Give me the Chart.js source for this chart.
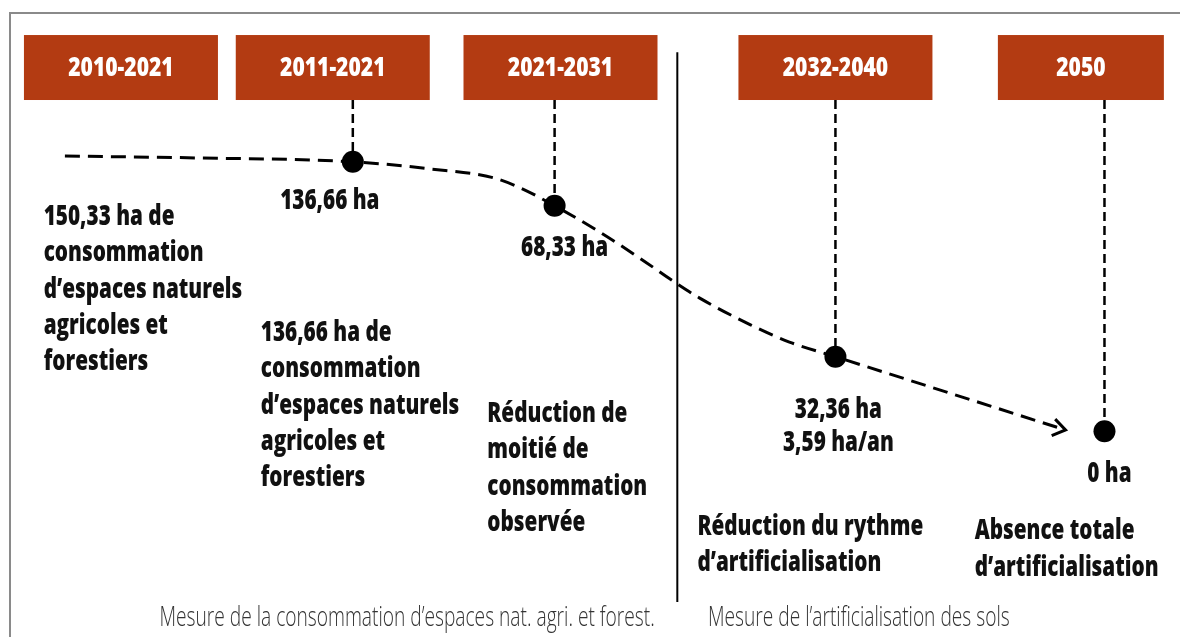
<!DOCTYPE html>
<html>
<head>
<meta charset="utf-8">
<script src="https://cdn.jsdelivr.net/npm/chart.js@4/dist/chart.umd.min.js"></script>
<style>
  html, body { margin: 0; padding: 0; background: #fff; }
  #wrap { position: relative; width: 1180px; height: 637px; }
</style>
</head>
<body>
<div id="wrap"><canvas id="myChart" width="1180" height="637"></canvas></div>
<script>
// Timeline data (x = position on timeline 0-100, y = level 0-100)
const periods = ["2010-2021", "2011-2021", "2021-2031", "2032-2040", "2050"];
const periodX = [10.25, 28.2, 47.5, 70.8, 91.6];

const curveX = [5.5, 16.9, 29.9, 36.4, 41.8, 44.1, 47.0, 50.8, 54.2, 57.5, 59.3, 63.6, 66.9, 70.8, 90.3];
const curveY = [75.5, 75.2, 74.6, 73.5, 72.1, 70.5, 67.7, 63.6, 59.5, 55.3, 53.2, 49.0, 46.3, 44.0, 32.5];

const milestoneX = [29.9, 47.0, 70.8, 93.6];
const milestoneY = [74.6, 67.7, 44.0, 32.3];
const milestoneLabels = [["136,66 ha"], ["68,33 ha"], ["32,36 ha", "3,59 ha/an"], ["0 ha"]];

const descriptions = [
	["150,33 ha de", "consommation", "d’espaces naturels", "agricoles et", "forestiers"],
	["136,66 ha de", "consommation", "d’espaces naturels", "agricoles et", "forestiers"],
	["Réduction de", "moitié de", "consommation", "observée"],
	["Réduction du rythme", "d’artificialisation"],
	["Absence totale", "d’artificialisation"]
];
const descX = [3.7, 22.1, 41.3, 59.1, 82.6];
const descY = [65.9, 47.7, 35.0, 17.3, 16.6];

const footers = ["Mesure de la consommation d’espaces nat. agri. et forest.", "Mesure de l’artificialisation des sols"];

const boxTop = 94.5;
const boxBottom = 84.3;
const separatorX = 57.4;

// stems from box bottom down to each milestone
const stemPoints = [];
milestoneX.forEach((x, i) => {
	stemPoints.push({ x: x, y: boxBottom });
	stemPoints.push({ x: x, y: milestoneY[i] });
	stemPoints.push({ x: x, y: null });
});

const RED = "#b33b12";

function condText(ctx, text, x, y, size, weight, sx, align, color) {
	ctx.save();
	ctx.font = weight + " " + size + "px 'Open Sans'";
	ctx.textBaseline = "middle";
	ctx.textAlign = "left";
	ctx.fillStyle = color;
	const w = ctx.measureText(text).width * sx;
	const x0 = align === "center" ? x - w / 2 : x;
	ctx.translate(x0, y);
	ctx.scale(sx, 1);
	ctx.fillText(text, 0, 0);
	ctx.restore();
}

const decor = {
	id: "decor",
	beforeDatasetsDraw(chart) {
		const ctx = chart.ctx;
		const xs = chart.scales.x;
		const ys = chart.scales.y;

		// frame
		ctx.save();
		ctx.strokeStyle = "#8a8a8a";
		ctx.lineWidth = 2;
		ctx.beginPath();
		ctx.moveTo(10, 640);
		ctx.lineTo(10, 13);
		ctx.lineTo(1180, 13);
		ctx.stroke();
		ctx.restore();

		// period boxes
		periods.forEach((p, i) => {
			const w = i === 4 ? 166 : 194;
			const cx = xs.getPixelForValue(periodX[i]);
			const top = ys.getPixelForValue(boxTop);
			const bottom = ys.getPixelForValue(boxBottom);
			ctx.fillStyle = RED;
			ctx.fillRect(cx - w / 2, top, w, bottom - top);
			condText(ctx, p, cx, (top + bottom) / 2 + 1, 27, "800", 0.78, "center", "#fff");
		});

		// descriptions
		descriptions.forEach((lines, i) => {
			const x = xs.getPixelForValue(descX[i]);
			const y = ys.getPixelForValue(descY[i]);
			lines.forEach((t, j) => {
				condText(ctx, t, x, y + j * 36.3, 28, "800", 0.74, "left", "#111");
			});
		});

		// footers
		condText(ctx, footers[0], xs.getPixelForValue(34.5), ys.getPixelForValue(3.0), 27, "300", 0.71, "center", "#333");
		condText(ctx, footers[1], xs.getPixelForValue(60.0), ys.getPixelForValue(3.0), 27, "300", 0.71, "left", "#333");
	},
	afterDatasetsDraw(chart) {
		const ctx = chart.ctx;
		const xs = chart.scales.x;
		const ys = chart.scales.y;

		// arrow head on curve end
		const n = curveX.length;
		const x1 = xs.getPixelForValue(curveX[n - 2]), y1 = ys.getPixelForValue(curveY[n - 2]);
		const x2 = xs.getPixelForValue(curveX[n - 1]), y2 = ys.getPixelForValue(curveY[n - 1]);
		const a = Math.atan2(y2 - y1, x2 - x1);
		ctx.save();
		ctx.strokeStyle = "#000";
		ctx.lineWidth = 3;
		ctx.beginPath();
		ctx.moveTo(x2 - 15 * Math.cos(a - 0.7), y2 - 15 * Math.sin(a - 0.7));
		ctx.lineTo(x2, y2);
		ctx.lineTo(x2 - 15 * Math.cos(a + 0.5), y2 - 15 * Math.sin(a + 0.5));
		ctx.stroke();
		ctx.restore();

		// value labels under milestones
		const offs = [[-23, 39], [10, 42], [3, 53], [5, 43]];
		milestoneLabels.forEach((lines, i) => {
			const x = xs.getPixelForValue(milestoneX[i]) + offs[i][0];
			const y = ys.getPixelForValue(milestoneY[i]) + offs[i][1];
			lines.forEach((t, j) => {
				condText(ctx, t, x, y + j * 33, 28, "800", 0.74, "center", "#111");
			});
		});
	}
};

const ctx = document.getElementById("myChart").getContext("2d");
const myChart = new Chart(ctx, {
	type: "line",
	data: {
		datasets: [
			{
				label: "Jalons",
				data: milestoneX.map((x, i) => ({ x: x, y: milestoneY[i] })),
				showLine: false,
				pointRadius: 11,
				pointBackgroundColor: "#000",
				pointBorderWidth: 0,
			},
			{
				label: "Trajectoire",
				data: curveX.map((x, i) => ({ x: x, y: curveY[i] })),
				borderColor: "#000",
				borderWidth: 3,
				borderDash: [15, 8],
				cubicInterpolationMode: "monotone",
				pointRadius: 0,
				fill: false,
			},
			{
				label: "Repères",
				data: stemPoints,
				borderColor: "#000",
				borderWidth: 2.5,
				borderDash: [9, 5],
				pointRadius: 0,
				spanGaps: false,
				fill: false,
			},
			{
				label: "Séparation",
				data: [{ x: separatorX, y: 91.8 }, { x: separatorX, y: 5.5 }],
				borderColor: "#000",
				borderWidth: 2,
				pointRadius: 0,
				fill: false,
			},
		],
	},
	options: {
		responsive: false,
		animation: false,
		devicePixelRatio: 1,
		events: [],
		clip: false,
		layout: { padding: 0, autoPadding: false },
		plugins: {
			legend: { display: false },
			tooltip: { enabled: false },
		},
		scales: {
			x: { type: "linear", min: 0, max: 100, display: false },
			y: { type: "linear", min: 0, max: 100, display: false },
		},
	},
	plugins: [decor],
});
</script>
</body>
</html>
